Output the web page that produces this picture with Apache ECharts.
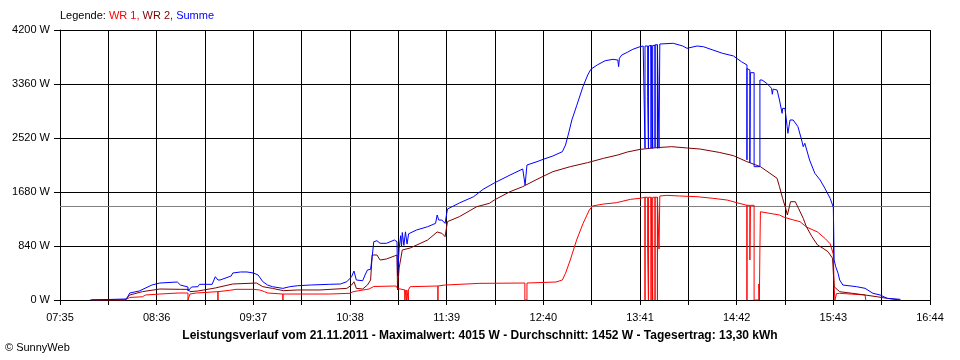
<!DOCTYPE html>
<html>
<head>
<meta charset="utf-8">
<script src="https://cdn.jsdelivr.net/npm/echarts@6/dist/echarts.min.js"></script>
<style>
html,body{margin:0;padding:0;background:#fff;}
#chart{width:960px;height:360px;}
</style>
</head>
<body>
<div id="chart"></div>
<script>
// ---- data ----
const startTime = "07:35";
const endTime = "16:44";
const tickStepMinutes = 30.5;     // grid line every 30.5 minutes
const labelStepMinutes = 61;      // label every 61 minutes
const yTicks = [0, 840, 1680, 2520, 3360, 4200];
const averageValue = 1452;

const wr1 = [
["07:55",0],["08:16",0],["08:17",16],["08:19",40],["08:27",50],["08:29",78],["08:38",93],["08:50",109],
["08:55:45",109],["08:55:45",0],["08:56:30",0],["08:57",93],
["09:01",109],["09:02",130],
["09:14:40",130],["09:14:40",0],["09:14:40",130],
["09:22",150],["09:26",166],["09:37",166],["09:41",156],["09:44",130],["09:46",109],
["09:55:40",93],["09:55:40",0],["09:55:40",93],
["10:25",93],["10:38",104],["10:40",130],["10:50",171],["10:53",210],["11:07",218],["11:08",180],["11:09",156],
["11:12:40",156],["11:12:40",0],["11:12:40",156],
["11:13:50",156],["11:13:50",0],["11:13:50",156],
["11:14:50",156],["11:14:50",0],["11:14:50",156],
["11:16",207],
["11:33:30",218],["11:33:30",0],["11:33:30",218],
["11:38",233],["12:00",259],
["12:28:20",264],["12:28:20",0],["12:29:40",0],["12:29:40",264],
["12:48",280],["12:52",311],["12:54",416],["12:57",622],["13:01",933],["13:05",1187],["13:09",1400],["13:11",1462],
["13:18",1493],["13:26",1513],["13:35",1566],["13:41",1582],
["13:44:10",1598],["13:44:10",0],["13:44:10",1598],
["13:45:50",1598],["13:45:50",793],["13:46:20",793],["13:46:20",0],["13:46:20",1598],
["13:48",1598],["13:48",0],["13:48",1598],
["13:49",1598],["13:49",0],["13:49",1598],
["13:50:30",1598],["13:50:30",0],["13:50:30",1598],
["13:52",1598],["13:52",0],["13:52",1598],
["13:53",1598],["13:53",793],["13:53:30",793],["13:53:30",1618],
["13:58",1628],["14:06",1618],["14:17",1607],["14:27",1582],["14:36",1555],["14:42",1514],
["14:48:30",1473],["14:48:30",0],["14:48:30",1473],
["14:50:20",1473],["14:50:20",622],["14:50:40",622],["14:50:40",1473],
["14:53",1473],["14:53",0],
["14:56",0],["14:56",249],["14:56:20",249],["14:56:20",0],
["14:56:40",0],["14:56:40",809],["14:57",809],["14:57",1373],
["15:09",1322],["15:12",1286],["15:18",1244],["15:22",1218],["15:26",1136],["15:33",1058],["15:38",953],
["15:41",875],["15:42",793],["15:43",715],["15:43:30",200],["15:44",0],["15:44:30",0],["15:45",100],
["15:47",104],["16:03",78],["16:03:30",0]
];

const wr2 = [
["07:55",0],["08:16",0],["08:17",16],["08:19",78],["08:27",130],["08:38",171],["08:51",166],["08:56",166],
["08:57",130],["09:02",140],["09:03",166],["09:13",187],["09:24",249],["09:39",264],["09:43",207],["09:49",181],
["09:56",145],["10:05",156],["10:19",156],["10:36",181],["10:39",233],["10:40:30",284],["10:42",181],["10:46",171],
["10:49",233],["10:51",311],["10:52",700],["10:55",700],["10:57",622],["11:01",638],["11:06",684],["11:07:40",700],
["11:08",156],["11:09",498],["11:10",520],["11:11",778],["11:16",809],["11:27",933],["11:33",1058],["11:36",1037],
["11:38",985],["11:39:30",1219],["11:47",1296],["11:58",1452],["12:06",1504],["12:09",1555],["12:19",1685],
["12:27",1763],["12:36",1877],["12:46",1996],["12:57",2074],["13:08",2137],["13:18",2204],["13:27",2256],
["13:33",2302],["13:41",2343],["13:51",2369],["14:01",2385],["14:11",2364],["14:19",2348],["14:31",2296],
["14:40",2245],["14:48",2157],["14:57",2074],["15:03",1971],["15:07:30",1893],["15:09",1762],["15:11",1582],
["15:13",1420],["15:14",1322],["15:16",1529],["15:19",1529],["15:21",1426],["15:24",1271],["15:26",1140],
["15:29:30",985],["15:33",856],["15:36:30",804],["15:39:40",751],["15:42:30",649],["15:43:30",207],
["15:47",129],["15:55",104],["16:03",78],["16:10:30",51],["16:17",26],["16:25",0]
];

const summe = [
["07:54",0],["07:55",16],["08:17",16],["08:19",109],["08:25",140],["08:33",233],["08:38",264],["08:49",280],
["08:51",233],["08:55:45",202],["08:55:45",140],["08:57",140],["08:58",202],["09:02",207],["09:03",244],
["09:11",244],["09:13",362],["09:14:40",311],["09:16",311],["09:23",373],["09:24",420],["09:29",436],
["09:33",436],["09:37",420],["09:40",389],["09:43",285],["09:46",233],["09:49",207],["09:55:40",181],
["10:00",207],["10:05",222],["10:13",233],["10:25",244],["10:32",249],["10:36",285],["10:39",362],
["10:40:30",451],["10:42",311],["10:46",300],["10:47:30",389],["10:49",467],["10:51",477],["10:52",674],
["10:53",907],["10:55",922],["10:57",882],["11:01",882],["11:06",933],["11:07:40",907],["11:08",373],
["11:09",804],["11:10",1000],["11:10:30",830],["11:11",1050],["11:12",850],["11:13",1060],["11:14",870],
["11:15",1030],["11:16",1037],["11:20",1089],["11:27",1140],["11:32",1192],["11:33",1322],["11:34",1244],
["11:36",1244],["11:38",1192],["11:39:30",1415],["11:47",1509],["11:56",1607],["12:02",1722],["12:09",1820],
["12:19",1944],["12:27",2038],["12:28",2069],["12:28:30",1789],["12:29:40",1789],["12:29:40",2100],
["12:36",2152],["12:40",2189],["12:46",2240],["12:52",2307],["12:54",2411],["12:56",2598],["12:58",2800],
["13:01",3020],["13:05",3318],["13:08",3500],["13:10",3589],["13:14",3656],["13:19",3722],["13:24",3744],
["13:27",3733],["13:27:30",3630],["13:28",3760],["13:29:30",3811],["13:33",3853],["13:36:30",3900],
["13:41",3940],["13:43",3951],
["13:44:10",3951],["13:44:10",2360],["13:44:10",3951],
["13:45:50",3951],["13:45:50",3162],["13:46:20",3162],["13:46:20",2360],["13:46:20",3951],
["13:48",3960],["13:48",2360],["13:48",3960],
["13:49",3960],["13:49",2360],["13:49",3960],
["13:50:30",3960],["13:50:30",2370],["13:50:30",3970],
["13:52",3970],["13:52",2360],["13:52",3970],
["13:53",3970],["13:53",2360],["13:53:30",2360],["13:53:30",3982],
["14:02",3993],["14:08",3951],["14:10:40",3915],["14:17",3951],["14:21",3940],["14:27",3889],["14:33",3838],
["14:40",3796],["14:42",3760],["14:45",3707],
["14:48:30",3656],["14:48:30",2180],["14:48:30",3600],
["14:50:20",3578],["14:50:20",2131],["14:50:40",2131],["14:50:40",3536],
["14:53",3536],["14:53",2074],["14:56:40",2074],["14:56:40",3422],
["14:58",3422],["15:01",3370],["15:04",3293],["15:04:30",3200],["15:05",3280],["15:07:30",3267],["15:09",3111],
["15:10:40",2904],["15:11",2980],["15:12:30",2981],["15:13:50",2700],["15:14:20",2593],["15:15:40",2800],
["15:17:40",2800],["15:20:40",2696],["15:23",2489],["15:24",2385],["15:25",2438],["15:28",2178],
["15:31:20",1971],["15:34:40",1867],["15:37:40",1738],["15:41",1582],["15:43",1442],["15:43:30",622],
["15:44:30",518],["15:46",415],["15:47",311],["15:49",233],["15:57:40",207],["16:03",182],["16:08",104],
["16:12:30",78],["16:17",26],["16:25",11],["16:25:30",0]
];

const titleText = "Leistungsverlauf vom 21.11.2011 - Maximalwert: 4015 W - Durchschnitt: 1452 W - Tagesertrag: 13,30 kWh";

// ---- helpers ----
function clockToMin(s){const p=s.split(':').map(Number);return p[0]*60+p[1]+(p[2]||0)/60;}
const t0 = clockToMin(startTime);
const tMax = clockToMin(endTime) - t0;
function toSeries(arr){return arr.map(d=>[clockToMin(d[0])-t0, d[1]]);}
function pad(n){return (n<10?'0':'')+n;}
function fmtClock(v){const m=Math.round(v+t0);return pad(Math.floor(m/60))+':'+pad(m%60);}

const FONT = 'Liberation Sans';
const chart = echarts.init(document.getElementById('chart'), null, {renderer:'canvas'});
chart.setOption({
  animation:false,
  backgroundColor:'#ffffff',
  title:{text:titleText,left:'center',top:330,padding:0,
    textStyle:{fontSize:12,fontWeight:'bold',fontFamily:FONT,color:'#000'}},
  graphic:[
    {type:'text',left:60,top:10,style:{
      text:'{a|Legende: }{b|WR 1, }{c|WR 2, }{d|Summe}',
      rich:{a:{fill:'#000',fontSize:11,fontFamily:FONT},b:{fill:'#ff0000',fontSize:11,fontFamily:FONT},
            c:{fill:'#800000',fontSize:11,fontFamily:FONT},d:{fill:'#0000ff',fontSize:11,fontFamily:FONT}}}},
    {type:'text',left:5,top:342,style:{text:'© SunnyWeb',fill:'#000',fontSize:11,fontFamily:FONT}}
  ],
  grid:{left:60,right:30,top:30,bottom:60,containLabel:false},
  xAxis:{type:'value',min:0,max:tMax,interval:tickStepMinutes,
    axisLine:{show:true,lineStyle:{color:'#000',width:1}},
    axisTick:{show:true,length:5,lineStyle:{color:'#000'}},
    axisLabel:{color:'#000',fontSize:11,fontFamily:FONT,margin:12,showMinLabel:true,showMaxLabel:true,
      formatter:function(v){return Math.abs(v%labelStepMinutes)<1e-6?fmtClock(v):'';}},
    splitLine:{show:true,lineStyle:{color:'#000',width:1}}},
  yAxis:{type:'value',min:yTicks[0],max:yTicks[yTicks.length-1],interval:yTicks[1]-yTicks[0],
    axisLine:{show:true,lineStyle:{color:'#000',width:1}},
    axisTick:{show:true,length:6,lineStyle:{color:'#000'}},
    axisLabel:{color:'#000',fontSize:11,fontFamily:FONT,margin:10,formatter:function(v){return String(v)+' W';}},
    splitLine:{show:true,lineStyle:{color:'#000',width:1}}},
  series:[
    {name:'WR 1',type:'line',data:toSeries(wr1),showSymbol:false,symbol:'none',
      lineStyle:{color:'#ff0000',width:1},itemStyle:{color:'#ff0000'},z:3,
      markLine:{silent:true,symbol:'none',label:{show:false},
        lineStyle:{color:'#808080',type:'solid',width:1},data:[{yAxis:averageValue}],z:1}},
    {name:'WR 2',type:'line',data:toSeries(wr2),showSymbol:false,symbol:'none',
      lineStyle:{color:'#800000',width:1},itemStyle:{color:'#800000'},z:4},
    {name:'Summe',type:'line',data:toSeries(summe),showSymbol:false,symbol:'none',
      lineStyle:{color:'#0000ff',width:1},itemStyle:{color:'#0000ff'},z:5}
  ]
});
</script>
</body>
</html>
